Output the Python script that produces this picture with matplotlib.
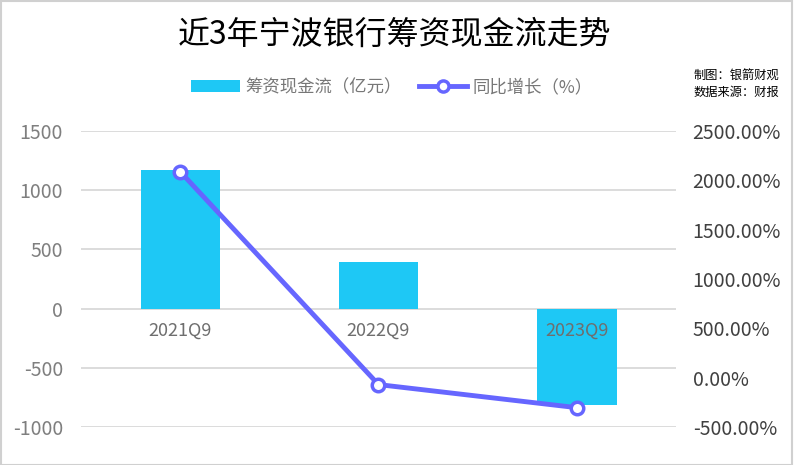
import matplotlib
matplotlib.use("Agg")
import matplotlib.pyplot as plt
from matplotlib.lines import Line2D
from matplotlib.patches import Patch
import numpy as np

plt.rcParams['font.family'] = ['Noto Sans CJK SC', 'DejaVu Sans']
plt.rcParams['axes.unicode_minus'] = False

categories = ['2021Q9', '2022Q9', '2023Q9']
cash_flow = [1168, 390, -818]          # 亿元
yoy_growth = [2088, -70, -304]         # %
left_ticks = [-1000, -500, 0, 500, 1000, 1500]
right_ticks = [-500, 0, 500, 1000, 1500, 2000, 2500]

bar_color = '#1EC8F5'
line_color = '#6666FF'

fig = plt.figure(figsize=(7.94, 4.65), dpi=100)
ax = fig.add_axes([81/794, 1-427/465, (676-81)/794, (427-131)/465])
ax2 = ax.twinx()

x = np.arange(len(categories))
ax.bar(x, cash_flow, width=0.4, color=bar_color, zorder=2)
ax.set_ylim(-1000, 1500)
ax.set_yticks(left_ticks)
ax.set_xlim(-0.5, 2.5)
ax.set_xticks([])
ax.grid(axis='y', color='#D9D9D9', linewidth=1.3, zorder=0)
ax.set_axisbelow(True)
for s in ax.spines.values():
    s.set_visible(False)
for s in ax2.spines.values():
    s.set_visible(False)
ax.tick_params(axis='y', length=0, pad=13, labelsize=14, labelcolor='#7F7F7F')

for xi, lab in zip(x, categories):
    ax.text(xi, -190, lab, ha='center', va='center', fontsize=13, color='#6E6E6E', zorder=5)

ax2.plot(x, yoy_growth, color=line_color, linewidth=3.5, marker='o', markersize=9,
         markerfacecolor='white', markeredgecolor=line_color, markeredgewidth=2.5, zorder=4)
ax2.set_ylim(-500, 2500)
ax2.set_yticks(right_ticks)
ax2.set_yticklabels([f'{v:.2f}%' for v in right_ticks])
ax2.tick_params(axis='y', length=0, pad=12, labelsize=14, labelcolor='#404040')

fig.text(395/794, 1-35/465, '近3年宁波银行筹资现金流走势', ha='center', va='center', fontsize=23, color='black')

handles = [Patch(facecolor=bar_color, edgecolor='none'),
           Line2D([0], [0], color=line_color, linewidth=3.5, marker='o', markersize=8,
                  markerfacecolor='white', markeredgecolor=line_color, markeredgewidth=2.5)]
fig.legend(handles, ['筹资现金流（亿元）', '同比增长（%）'], loc='center', bbox_to_anchor=(392/794, 1-87/465),
           ncol=2, frameon=False, fontsize=12.5, labelcolor='#777777', handlelength=2.8, handletextpad=0.3,
           columnspacing=1.0)

fig.text(779/794, 1-76/465, '制图：银箭财观', ha='right', va='center', fontsize=8.8, color='black')
fig.text(779/794, 1-92/465, '数据来源：财报', ha='right', va='center', fontsize=8.8, color='black')

border = plt.Rectangle((0.001, 0.001), 0.997, 0.996, transform=fig.transFigure, fill=False,
                       edgecolor='#D0D0D0', linewidth=1.5)
fig.patches.append(border)

fig.savefig('out.png', dpi=100)
